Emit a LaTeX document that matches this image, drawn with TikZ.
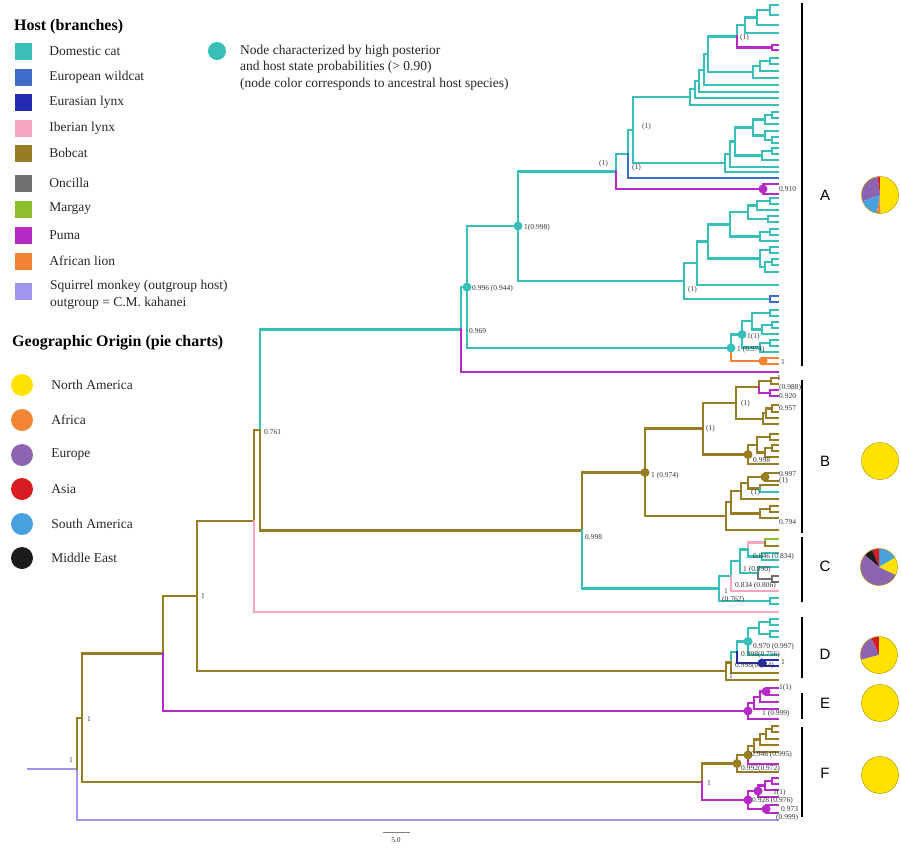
\documentclass[tikz,border=0pt]{standalone}
\usepackage{fontspec}
\setmainfont{Liberation Serif}
\newfontfamily\letterfont{Liberation Sans}
\usetikzlibrary{positioning}
\definecolor{cat}{RGB}{56,191,185}
\definecolor{wildcat}{RGB}{62,108,200}
\definecolor{lynx}{RGB}{36,42,178}
\definecolor{iberian}{RGB}{245,165,192}
\definecolor{bobcat}{RGB}{152,124,36}
\definecolor{oncilla}{RGB}{112,112,112}
\definecolor{margay}{RGB}{140,190,45}
\definecolor{puma}{RGB}{182,42,198}
\definecolor{lion}{RGB}{242,130,52}
\definecolor{monkey}{RGB}{160,150,238}
\definecolor{namer}{RGB}{255,226,0}
\definecolor{africa}{RGB}{245,135,52}
\definecolor{europe}{RGB}{140,100,175}
\definecolor{asia}{RGB}{215,28,36}
\definecolor{samer}{RGB}{72,160,222}
\definecolor{mideast}{RGB}{28,28,28}
\tikzset{
  br/.style={line width=2.6pt, line cap=rect},
  hdot/.style={circle, fill=#1, inner sep=0pt, minimum size=9pt},
  lab/.style={font=\fontsize{7.5}{8}\selectfont, text=black!80, inner sep=0pt, anchor=west},
  leg/.style={font=\fontsize{13.5}{16.5}\selectfont, text=black!85, inner sep=0pt, anchor=west},
  ttl/.style={font=\fontsize{16}{18}\selectfont\bfseries, inner sep=0pt, anchor=west},
  sq/.style={fill=#1, minimum size=17pt, inner sep=0pt},
  clade/.style={line width=1.4pt},
  pieline/.style={draw=namer!70!black, line width=0.5pt},
}
\newcommand\pieseg[4]{\fill[#4] (#1) -- ++(#2:18.5pt) arc[start angle=#2, end angle=#3, radius=18.5pt] -- cycle;}
\begin{document}
\begin{tikzpicture}[x=1pt,y=-1pt]
\useasboundingbox (0,0) rectangle (901,847);
% tips
\foreach \y in {5,15,25,33,45,50,58,64,71,78,85,92,98,105,112,118,124,131,137,143,148,154,160,167,172,178,184,194,198,204,210,216,222,229,235,241,247,253,259,265,272,285,296,302,310,316,322,328,334,340,346,352,358,364,372,378,384,390,396,405,412,418,424,434,440,445,451,457,464,473,481,485,492,499,506,512,518,530,539,546,553,560,567,576,582,591,598,604,612,619,625,631,637,655,660,666,673,680,688,695,702,709,719,726,732,739,745,752,764,772,778,784,790,797,805,813,820}
  \coordinate (t\y) at (778,\y);
% inner nodes
\foreach \n/\x/\y in {S/28/769, R/77/769, I1/82/718, I2/163/653.5, I3/197/596, I4/254/521, I5/260/430,
  A0/461/329.5, A1/467/287, A2/518/226, A3/731/348, A4/742/334.5, A5/752/321, A5c/770/313, A5d/762/329.5, A5dc/772/325, A6/760/347.5, A6c/770/343, orn/763/361,
  a1/616/171.5, a2/628/154, a3/633/130, a4/690/97, n2/695/89, n3/699/81, n3b/704/70, Atop/708/54, c1/737/36.5, c3/745/25, c4/757/17.5, a7/770/10, pc/772/47.5, c2/753/72, d1/760/66, d1c/770/61,
  a5/725/163, e1/730/154, e2/735/141.5, e3/753/127.5, g1/765/119.5, g1c/772/115, g2/765/135.5, g2c/772/140, e4/762/155.5, e4c/772/151, p1/763/189,
  f1/684/281, f2/697/263, f3/708/241.5, f4/730/224.5, f6/748/212, f8/757/205.5, f8c/770/201, f6c/768/219, f7/760/236.5, f7c/770/232, f5/760/258.5, f5c/770/250, f5d/765/267, f5dc/772/262, fb/770/299,
  BC/582/530.5, B0/645/472.5, B1/703/428.5, B3/736/403, B3a/759/387, B3ac/771/381, B3ap/770/393, B3b/763/419, B3bd/766/413, B3bdc/772/408.5, B4/748/454.5, B4a/757/445, B4ac/770/437, B4ad/765/452.5, B4adc/772/448, B2/726/516, B5/731/502, B6b/741/491, B6/748/483, B8/765/477, B9/760/488.5, B7/760/513.5, B7c/770/509,
  C0/719/588.5, C0c/770/601, C1/731/576, C6/740/561, C3/748/549.5, C4/765/542.5, C5/762/556.5, C7/758/573, C7g/772/579,
  D0/726/671, D1/731/662.5, D2/737/652, D3/748/641.5, D5/759/628, D5a/770/622, D5b/770/634, D4/762/663,
  E0/748/711, E1/754/703, E2/760/697, E3/766/691.5,
  F0/702/782, F1/737/763.5, F2/748/755, F3/754/746, F4/760/739.5, F5/766/734, F5c/772/729, F6/748/800, F7/758/791, F7d/765/785.5, F7c/772/781, F8/766/809}
  \coordinate (\n) at (\x,\y);
% branches
\draw[br,monkey] (S) -- (R);
\foreach \p/\c/\k in {R/monkey/t820, R/bobcat/I1, I1/bobcat/I2, I1/bobcat/F0, I2/bobcat/I3, I2/puma/E0,
  I3/bobcat/I4, I3/bobcat/D0, I4/bobcat/I5, I4/iberian/t612, I5/cat/A0, I5/bobcat/BC,
  A0/cat/A1, A0/puma/t372, A1/cat/A2, A1/cat/A3, A2/cat/a1, A2/cat/f1,
  a1/cat/a2, a1/puma/p1, p1/puma/t184, p1/puma/t194, a2/cat/a3, a2/wildcat/t178, a3/cat/a4, a3/cat/a5,
  a4/cat/n2, a4/cat/t105, n2/cat/n3, n2/cat/t98, n3/cat/n3b, n3/cat/t92, n3b/cat/Atop, n3b/cat/t85,
  Atop/cat/c1, Atop/cat/c2, c1/cat/c3, c1/puma/pc, pc/puma/t45, pc/puma/t50,
  c3/cat/c4, c3/cat/t33, c4/cat/a7, c4/cat/t25, a7/cat/t5, a7/cat/t15,
  c2/cat/d1, c2/cat/t78, d1/cat/d1c, d1/cat/t71, d1c/cat/t58, d1c/cat/t64,
  a5/cat/e1, a5/cat/t172, e1/cat/e2, e1/cat/t167, e2/cat/e3, e2/cat/e4,
  e3/cat/g1, e3/cat/g2, g1/cat/g1c, g1/cat/t124, g1c/cat/t112, g1c/cat/t118,
  g2/cat/t131, g2/cat/g2c, g2c/cat/t137, g2c/cat/t143, e4/cat/e4c, e4/cat/t160, e4c/cat/t148, e4c/cat/t154,
  f1/cat/f2, f1/cat/fb, fb/wildcat/t296, fb/wildcat/t302,
  f2/cat/f3, f2/cat/t285, f3/cat/f4, f3/cat/f5, f4/cat/f6, f4/cat/f7,
  f6/cat/f8, f6/cat/f6c, f8/cat/f8c, f8/cat/t210, f8c/cat/t198, f8c/cat/t204, f6c/cat/t216, f6c/cat/t222,
  f7/cat/f7c, f7/cat/t241, f7c/cat/t229, f7c/cat/t235,
  f5/cat/f5c, f5/cat/f5d, f5c/cat/t247, f5c/cat/t253, f5d/cat/f5dc, f5d/cat/t272, f5dc/cat/t259, f5dc/cat/t265,
  A3/cat/A4, A3/lion/orn, orn/lion/t358, orn/lion/t364,
  A4/cat/A5, A4/cat/A6, A5/cat/A5c, A5/cat/A5d, A5c/cat/t310, A5c/cat/t316, A5d/cat/A5dc, A5d/cat/t334, A5dc/cat/t322, A5dc/cat/t328,
  A6/cat/A6c, A6/cat/t352, A6c/cat/t340, A6c/cat/t346,
  BC/bobcat/B0, BC/cat/C0, B0/bobcat/B1, B0/bobcat/B2, B1/bobcat/B3, B1/bobcat/B4,
  B3/bobcat/B3a, B3/bobcat/B3b, B3a/bobcat/B3ac, B3a/puma/B3ap, B3ac/bobcat/t378, B3ac/bobcat/t384, B3ap/puma/t390, B3ap/puma/t396,
  B3b/bobcat/B3bd, B3b/bobcat/t424, B3bd/bobcat/B3bdc, B3bd/bobcat/t418, B3bdc/bobcat/t405, B3bdc/bobcat/t412,
  B4/bobcat/B4a, B4/bobcat/t464, B4a/bobcat/B4ac, B4a/bobcat/B4ad, B4ac/bobcat/t434, B4ac/bobcat/t440, B4ad/bobcat/B4adc, B4ad/bobcat/t457, B4adc/bobcat/t445, B4adc/bobcat/t451,
  B2/bobcat/B5, B2/bobcat/t530, B5/bobcat/B6b, B5/bobcat/B7, B6b/bobcat/B6, B6b/bobcat/t499, B6/bobcat/B8, B6/bobcat/B9, B8/bobcat/t473, B8/bobcat/t481, B9/bobcat/t485, B9/cat/t492,
  B7/bobcat/B7c, B7/bobcat/t518, B7c/bobcat/t506, B7c/bobcat/t512,
  C0/cat/C1, C0/cat/C0c, C0c/cat/t598, C0c/cat/t604, C1/cat/C6, C1/iberian/t591, C6/cat/C3, C6/cat/C7,
  C3/iberian/C4, C3/cat/C5, C4/margay/t539, C4/bobcat/t546, C5/cat/t553, C5/cat/t560,
  C7/cat/t567, C7/oncilla/C7g, C7g/oncilla/t576, C7g/oncilla/t582,
  D0/bobcat/D1, D0/bobcat/t680, D1/cat/D2, D1/bobcat/t673, D2/cat/D3, D2/lynx/D4, D4/lynx/t660, D4/lynx/t666,
  D3/cat/D5, D3/cat/t655, D5/cat/D5a, D5/cat/D5b, D5a/cat/t619, D5a/cat/t625, D5b/cat/t631, D5b/cat/t637,
  E0/puma/E1, E0/puma/t719, E1/puma/E2, E1/puma/t709, E2/puma/E3, E2/puma/t702, E3/puma/t688, E3/puma/t695,
  F0/bobcat/F1, F0/puma/F6, F1/bobcat/F2, F1/bobcat/t772, F2/bobcat/F3, F2/puma/t764,
  F3/bobcat/F4, F3/bobcat/t752, F4/bobcat/F5, F4/bobcat/t745, F5/bobcat/F5c, F5/bobcat/t739, F5c/bobcat/t726, F5c/bobcat/t732,
  F6/puma/F7, F6/puma/F8, F7/puma/F7d, F7/puma/t797, F7d/puma/F7c, F7d/puma/t790, F7c/puma/t778, F7c/puma/t784, F8/puma/t805, F8/puma/t813}
  \draw[br,\c] (\p) |- (\k);
% well supported nodes
\foreach \n/\c in {A2/cat, A1/cat, A3/cat, A4/cat, p1/puma, orn/lion, B0/bobcat, B4/bobcat, B8/bobcat, D3/cat, D4/lynx,
  E0/puma, E3/puma, F1/bobcat, F2/bobcat, F6/puma, F7/puma, F8/puma}
  \node[hdot=\c] (d\n) at (\n) {};
% support values
\foreach \x/\y/\t [count=\i] in {69/760/1, 87/719/1, 201/596/1, 264/432/0.761, 469/331/0.969, 472/289/0.996 (0.944), 524/228/1(0.998),
  599/164/(1), 632/168/(1), 642/127/(1), 740/38/(1), 688/290/(1), 737/350/1 (0.974), 747/337/1(1), 781/362/1, 779/189/0.910,
  777/378/1, 779/388/(0.988), 779/396/0.920, 779/408/0.957, 706/429/(1), 741/404/(1), 753/460/0.998, 651/476/1 (0.974),
  779/474/0.997, 779/481/(1), 751/493/(1), 779/522/0.794, 585/537/0.998,
  753/557/0.846 (0.834), 743/570/1 (0.890), 735/586/0.834 (0.806), 724/591/1, 722/600/(0.762),
  753/647/0.970 (0.997), 741/655/0.998(0.756), 735/666/0.998(0.844), 781/662/1, 729/676/1,
  779/688/1(1), 762/714/1 (0.999), 751/755/0.946 (0.995), 741/769/0.992(0.972), 707/783/1,
  773/793/1(1), 752/801/0.928 (0.976), 781/809.5/0.973, 776/818/(0.999)}
  \node[lab] (v\i) at (\x,\y) {\t};
% clade bars
\foreach \n/\a/\b/\m in {A/3/366/195, B/380/533/461, C/537/602/566, D/617/678/654, E/693/719/703, F/727/817/773} {
  \coordinate (top\n) at (802,\a);
  \coordinate (bot\n) at (802,\b);
  \draw[clade] (top\n) -- (bot\n);
  \node[font=\letterfont\fontsize{15}{15}\selectfont] (L\n) at (825,\m) {\n};
}
% pie charts
\coordinate (pA) at (880,195);
\coordinate (pB) at (880,461);
\coordinate (pC) at (879,567);
\coordinate (pD) at (879,655);
\coordinate (pE) at (880,703);
\coordinate (pF) at (880,775);
\pieseg{pA}{90}{98}{asia}
\pieseg{pA}{98}{200}{europe}
\pieseg{pA}{200}{260}{samer}
\pieseg{pA}{260}{272}{africa}
\pieseg{pA}{272}{450}{namer}
\pieseg{pC}{30}{90}{samer}
\pieseg{pC}{90}{112}{asia}
\pieseg{pC}{112}{140}{mideast}
\pieseg{pC}{140}{335}{europe}
\pieseg{pC}{335}{390}{namer}
\pieseg{pD}{90}{115}{asia}
\pieseg{pD}{115}{195}{europe}
\pieseg{pD}{195}{450}{namer}
\foreach \p in {pB,pE,pF}
  \fill[namer] (\p) circle[radius=18.5pt];
\foreach \p in {pA,pB,pC,pD,pE,pF}
  \draw[pieline] (\p) circle[radius=18.5pt];
% host legend
\node[ttl] (h1) at (14,27) {Host (branches)};
\foreach \y/\c/\t [count=\i] in {51/cat/Domestic cat, 77/wildcat/European wildcat, 102/lynx/Eurasian lynx, 128/iberian/Iberian lynx,
  153/bobcat/Bobcat, 183/oncilla/Oncilla, 209/margay/Margay, 235/puma/Puma, 261/lion/African lion} {
  \node[sq=\c] (s\i) at (23.5,\y) {};
  \node[leg, right=17pt of s\i] (st\i) {\t};
}
\node[sq=monkey] (s10) at (23.5,291) {};
\node[leg, align=left] (st10) at (50,295) {Squirrel monkey (outgroup host)\\outgroup = C.M. kahanei};
\node[hdot=cat, minimum size=18pt] (nl) at (217,51) {};
\node[leg, align=left] (nlt) at (240,67.5) {Node characterized by high posterior\\and host state probabilities (> 0.90)\\(node color corresponds to ancestral host species)};
% geography legend
\node[ttl] (h2) at (12,343) {Geographic Origin (pie charts)};
\foreach \y/\c/\t [count=\i] in {385/namer/North America, 420/africa/Africa, 455/europe/Europe, 489/asia/Asia, 524/samer/South America, 558/mideast/Middle East} {
  \node[circle, fill=\c, minimum size=22pt, inner sep=0pt] (g\i) at (22,\y) {};
  \node[leg, right=18pt of g\i] (gt\i) {\t};
}
% scale bar
\coordinate (sb1) at (383,832);
\coordinate (sb2) at (410,832);
\draw[gray, line width=0.8pt] (sb1) -- (sb2);
\node[lab, anchor=center] (sbl) at (396,840) {5.0};
\end{tikzpicture}
\end{document}
